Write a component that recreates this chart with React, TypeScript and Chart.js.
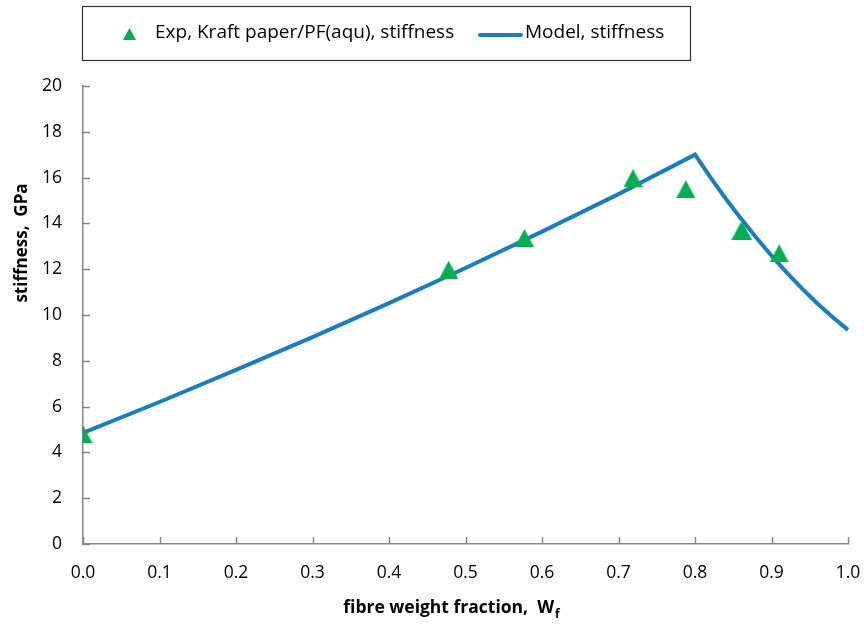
import React, { useEffect, useRef } from "react";
import { Chart, registerables } from "chart.js";
Chart.register(...registerables);

const expX = [0, 0.478, 0.577, 0.719, 0.788, 0.86, 0.862, 0.91];
const expY = [4.8, 11.98, 13.36, 15.98, 15.5, 13.67, 13.67, 12.7];
const modelX = [0, 0.1, 0.2, 0.3, 0.4, 0.5, 0.6, 0.7, 0.8, 0.82, 0.84, 0.86, 0.88, 0.9, 0.92, 0.94, 0.96, 0.98, 1.0];
const modelY = [4.85, 6.2, 7.6, 9.03, 10.52, 12.05, 13.64, 15.28, 17.0, 16.02, 15.09, 14.21, 13.38, 12.59, 11.85, 11.15, 10.5, 9.9, 9.35];
const xTicks = [0, 0.1, 0.2, 0.3, 0.4, 0.5, 0.6, 0.7, 0.8, 0.9, 1.0];
const yTicks = [0, 2, 4, 6, 8, 10, 12, 14, 16, 18, 20];
const expLabel = "Exp, Kraft paper/PF(aqu), stiffness";
const modelLabel = "Model, stiffness";
const xTitle = "fibre weight fraction,  W";
const xTitleSub = "f";
const yTitle = "stiffness,  GPa";

const FONT = "'Open Sans', 'Noto Sans', sans-serif";
const GREEN = "#00b050";
const BLUE = "#1b7dc1";
const AXIS = "#868686";

function makeTriangle(w: number, h: number): HTMLCanvasElement {
  const c = document.createElement("canvas");
  c.width = w;
  c.height = h;
  const ctx = c.getContext("2d")!;
  ctx.fillStyle = GREEN;
  ctx.beginPath();
  ctx.moveTo(w / 2, 0);
  ctx.lineTo(w, h);
  ctx.lineTo(0, h);
  ctx.closePath();
  ctx.fill();
  return c;
}

export default function App() {
  const ref = useRef<HTMLCanvasElement | null>(null);
  useEffect(() => {
    if (!ref.current) return;
    const tri = makeTriangle(19, 18);
    const legendTri = makeTriangle(13, 12);

    const decor = {
      id: "decor",
      afterDraw(chart: any) {
        const ctx = chart.ctx as CanvasRenderingContext2D;
        const xs = chart.scales.x;
        const ys = chart.scales.y;
        const area = chart.chartArea;
        ctx.save();
        // inner tick marks
        ctx.strokeStyle = AXIS;
        ctx.lineWidth = 1.5;
        ctx.beginPath();
        for (const v of yTicks) {
          const py = Math.round(ys.getPixelForValue(v)) + 0.5;
          ctx.moveTo(area.left, py);
          ctx.lineTo(area.left + 7, py);
        }
        for (const v of xTicks) {
          const px = Math.round(xs.getPixelForValue(v)) + 0.5;
          ctx.moveTo(px, area.bottom);
          ctx.lineTo(px, area.bottom - 7);
        }
        ctx.stroke();

        // legend box
        ctx.strokeStyle = "#333";
        ctx.lineWidth = 1.2;
        ctx.strokeRect(82.5, 6.5, 608, 54);
        ctx.drawImage(legendTri, 123, 28);
        ctx.fillStyle = "#000";
        ctx.font = `19px ${FONT}`;
        ctx.textBaseline = "middle";
        ctx.textAlign = "left";
        ctx.fillText(expLabel, 155, 33);
        ctx.strokeStyle = BLUE;
        ctx.lineWidth = 4;
        ctx.lineCap = "round";
        ctx.beginPath();
        ctx.moveTo(480, 35);
        ctx.lineTo(521, 35);
        ctx.stroke();
        ctx.lineCap = "butt";
        ctx.fillText(modelLabel, 525, 33);

        // x title
        ctx.font = `bold 17.5px ${FONT}`;
        ctx.textBaseline = "alphabetic";
        const w1 = ctx.measureText(xTitle).width;
        ctx.font = `bold 12px ${FONT}`;
        const w2 = ctx.measureText(xTitleSub).width;
        const start = 451 - (w1 + w2) / 2;
        ctx.font = `bold 17.5px ${FONT}`;
        ctx.fillText(xTitle, start, 613);
        ctx.font = `bold 12px ${FONT}`;
        ctx.fillText(xTitleSub, start + w1 + 1, 618);

        // y title
        ctx.translate(22, 243);
        ctx.rotate(-Math.PI / 2);
        ctx.font = `bold 17px ${FONT}`;
        ctx.textAlign = "center";
        ctx.textBaseline = "middle";
        ctx.fillText(yTitle, 0, 0);
        ctx.restore();
      },
    };

    const chart = new Chart(ref.current, {
      type: "scatter",
      data: {
        datasets: [
          {
            label: expLabel,
            data: expX.map((x, i) => ({ x, y: expY[i] })),
            pointStyle: tri as any,
            pointRadius: 9,
            backgroundColor: GREEN,
            borderColor: GREEN,
            order: 0,
          },
          {
            label: modelLabel,
            data: modelX.map((x, i) => ({ x, y: modelY[i] })),
            showLine: true,
            borderColor: BLUE,
            backgroundColor: BLUE,
            borderWidth: 4,
            pointRadius: 0,
            tension: 0,
            order: 1,
            clip: 4,
          } as any,
        ],
      },
      options: {
        animation: false,
        responsive: false,
        maintainAspectRatio: false,
        layout: { padding: { top: 86, right: 16, left: 0, bottom: 0 } },
        plugins: { legend: { display: false }, tooltip: { enabled: false } },
        scales: {
          x: {
            type: "linear",
            min: 0,
            max: 1,
            afterBuildTicks: (s: any) => {
              s.ticks = xTicks.map((v) => ({ value: v }));
            },
            afterFit: (s: any) => {
              s.height = 85;
              s.paddingLeft = 0;
              s.paddingRight = 0;
            },
            ticks: {
              autoSkip: false,
              maxRotation: 0,
              padding: 19,
              color: "#000",
              font: { family: FONT, size: 17.5 },
              callback: (v: any) => Number(v).toFixed(1),
            },
            grid: { display: true, drawOnChartArea: false, drawTicks: false },
            border: { display: true, color: AXIS, width: 1.5 },
          },
          y: {
            type: "linear",
            min: 0,
            max: 20,
            afterBuildTicks: (s: any) => {
              s.ticks = yTicks.map((v) => ({ value: v }));
            },
            afterFit: (s: any) => {
              s.width = 83;
              s.paddingTop = 0;
              s.paddingBottom = 0;
            },
            ticks: {
              autoSkip: false,
              padding: 21,
              color: "#000",
              font: { family: FONT, size: 17.5 },
            },
            grid: { display: true, drawOnChartArea: false, drawTicks: false },
            border: { display: true, color: AXIS, width: 1.5 },
          },
        },
      },
      plugins: [decor],
    });
    return () => chart.destroy();
  }, []);

  return (
    <div style={{ position: "fixed", left: 0, top: 0, width: 864, height: 629, background: "#fff" }}>
      <canvas ref={ref} width={864} height={629} style={{ width: 864, height: 629, display: "block" }} />
    </div>
  );
}
